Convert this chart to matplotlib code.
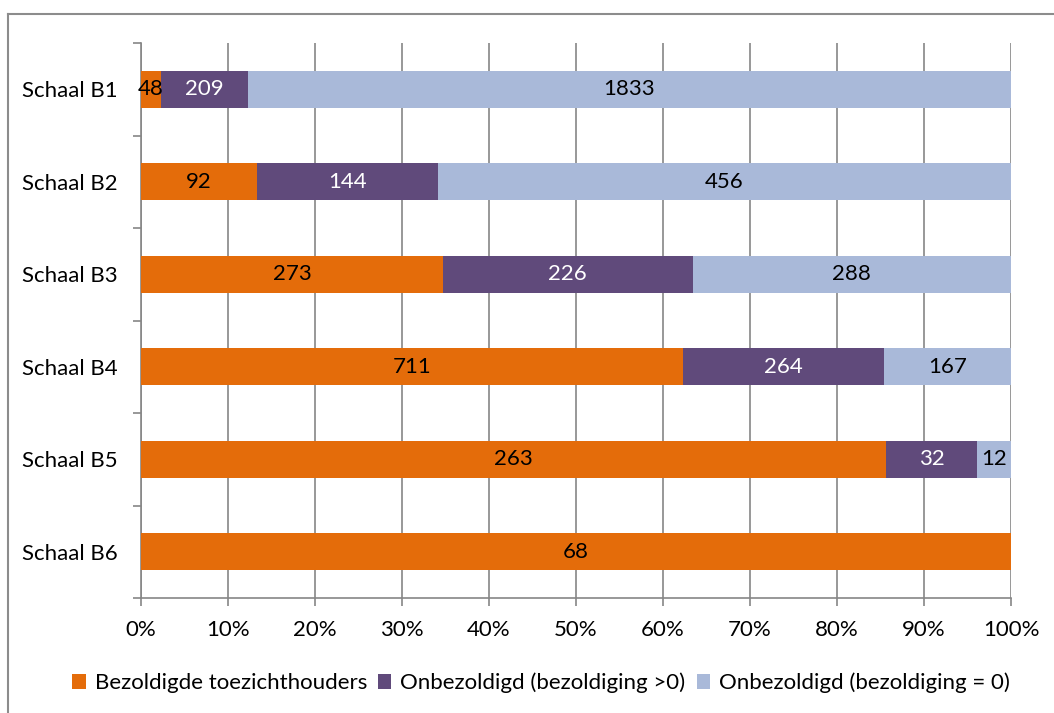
import numpy as np
import matplotlib.pyplot as plt
from matplotlib.lines import Line2D

plt.rcParams['font.family'] = ['Lato', 'DejaVu Sans']

categories = ["Schaal B1", "Schaal B2", "Schaal B3", "Schaal B4", "Schaal B5", "Schaal B6"]
bezoldigd = [48, 92, 273, 711, 263, 68]
onbez_pos = [209, 144, 226, 264, 32, 0]
onbez_nul = [1833, 456, 288, 167, 12, 0]
series_names = ["Bezoldigde toezichthouders", "Onbezoldigd (bezoldiging >0)",
                "Onbezoldigd (bezoldiging = 0)"]
colors = ["#E46C0A", "#604A7B", "#A9B9D9"]
label_colors = ["black", "white", "black"]

W, H = 1054, 713
FS = 16
fig = plt.figure(figsize=(W / 100, H / 100), dpi=100)

# rand van de grafiek (alleen boven en links zichtbaar, rest valt buiten beeld)
fig.lines.append(Line2D([8 / W, 1], [(H - 14) / H, (H - 14) / H],
                        transform=fig.transFigure, color="#8C8C8C", linewidth=1.5))
fig.lines.append(Line2D([8 / W, 8 / W], [0, (H - 14) / H],
                        transform=fig.transFigure, color="#8C8C8C", linewidth=1.5))

ax = fig.add_axes([141 / W, (H - 598) / H, (1011 - 141) / W, (598 - 43) / H])

data = np.array([bezoldigd, onbez_pos, onbez_nul], dtype=float)
totals = data.sum(axis=0)
pct = data / totals
y = np.arange(len(categories))

left = np.zeros(len(categories))
for i in range(3):
    ax.barh(y, pct[i], left=left, height=0.4, color=colors[i],
            label=series_names[i], zorder=3)
    for j in range(len(categories)):
        if data[i, j] > 0:
            ax.text(left[j] + pct[i, j] / 2, y[j], str(int(data[i, j])),
                    ha="center", va="center", fontsize=FS,
                    color=label_colors[i], zorder=4)
    left += pct[i]

ax.set_xlim(0, 1)
ax.set_ylim(len(categories) - 0.5, -0.5)
ax.set_xticks(np.linspace(0, 1, 11))
ax.set_xticklabels([f"{int(v)}%" for v in np.linspace(0, 100, 11)], fontsize=FS)
ax.set_yticks(y)
ax.set_yticklabels(categories, fontsize=FS)
ax.set_yticks(np.arange(-0.5, len(categories), 1), minor=True)

ax.tick_params(axis="y", which="major", length=0, pad=17)
ax.tick_params(axis="y", which="minor", length=6, color="#868686", width=1.2)
ax.tick_params(axis="x", length=6, color="#868686", width=1.2, pad=10)

ax.grid(axis="x", color="#868686", linewidth=1.2, zorder=0)
for s in ["top", "right"]:
    ax.spines[s].set_visible(False)
for s in ["left", "bottom"]:
    ax.spines[s].set_color("#868686")
    ax.spines[s].set_linewidth(1.2)

fig.legend(loc="center", bbox_to_anchor=(541 / W, (H - 683) / H), ncol=3,
           frameon=False, fontsize=FS, handlelength=0.6, handleheight=0.6,
           handletextpad=0.4, columnspacing=0.5)

fig.savefig("out.png", dpi=100)
